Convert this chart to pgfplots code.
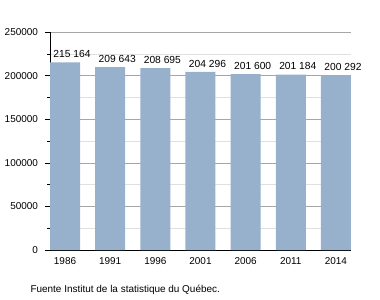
\documentclass[border=0pt]{standalone}
\usepackage{fontspec}
\setmainfont{Liberation Sans}
\usepackage{pgfplots}
\usepackage{pgfplotstable}
\pgfplotsset{compat=1.18}
\definecolor{barblue}{RGB}{151,177,205}
\pgfplotstableread[col sep=comma]{
x,y,lab
0,215164,215 164
1,209643,209 643
2,208695,208 695
3,204296,204 296
4,201600,201 600
5,201184,201 184
6,200292,200 292
}\data
\begin{document}
\begin{tikzpicture}
\path[use as bounding box] (-50bp,-50bp) rectangle (330bp,250bp);
\begin{axis}[
  at={(0,0)}, anchor=south west,
  scale only axis, width=301bp, height=218bp,
  xmin=-0.333, xmax=6.333, ymin=0, ymax=250000,
  axis x line*=bottom, axis y line*=left,
  axis line style={black, line width=0.8pt},
  xtick=data, xticklabels={1986,1991,1996,2001,2006,2011,2014},
  x tick style={draw=none},
  scaled y ticks=false,
  ytick={0,50000,100000,150000,200000,250000},
  yticklabels={0,50000,100000,150000,200000,250000},
  minor y tick num=1,
  y tick style={black, line width=0.6pt},
  major tick length=5bp, minor tick length=3bp,
  tick align=outside,
  ymajorgrids, yminorgrids,
  major grid style={draw=black!35, line width=0.6pt},
  minor grid style={draw=black!12, line width=0.6pt},
  tick label style={font=\fontsize{10}{11}\selectfont},
  xticklabel style={yshift=1bp},
  yticklabel style={xshift=-3.5bp},
  point meta=explicit symbolic,
  nodes near coords,
  nodes near coords style={font=\fontsize{10.3}{11}\selectfont, anchor=south, xshift=7bp, yshift=1bp},
  clip=false,
]
\addplot[ybar, bar width=30bp, fill=barblue, draw=none, bar shift=0pt] table[x=x, y=y, meta=lab] {\data};
\end{axis}
\node[anchor=west, font=\fontsize{10}{11}\selectfont] at (-23bp,-40bp) {Fuente Institut de la statistique du Québec.};
\end{tikzpicture}
\end{document}
